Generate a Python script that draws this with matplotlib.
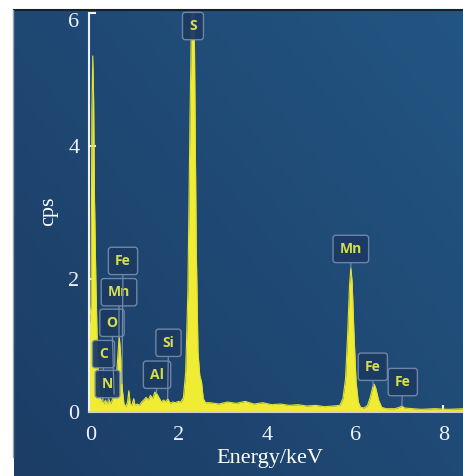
import matplotlib
matplotlib.use("Agg")
import matplotlib.pyplot as plt
import numpy as np

# EDS spectrum, energy (keV) vs counts per second
energy_kev = [
    -0.05, 0.00, 0.02, 0.04, 0.06, 0.08, 0.11, 0.15, 0.19, 0.23, 0.26, 0.29,
    0.33, 0.37, 0.40, 0.44, 0.48, 0.52, 0.56, 0.60, 0.64, 0.68, 0.71, 0.75,
    0.79, 0.83, 0.86, 0.89, 0.93, 0.97, 1.00, 1.05, 1.10, 1.15, 1.20, 1.25,
    1.30, 1.35, 1.40, 1.45, 1.49, 1.54, 1.60, 1.65, 1.70, 1.74, 1.80, 1.86,
    1.92, 1.98, 2.04, 2.10, 2.15, 2.20, 2.25, 2.29, 2.32, 2.35, 2.39, 2.43,
    2.47, 2.51, 2.55, 2.60, 2.70, 2.90, 3.10, 3.30, 3.50, 3.70, 3.90, 4.10,
    4.30, 4.50, 4.70, 4.90, 5.10, 5.30, 5.50, 5.65, 5.72, 5.78, 5.83, 5.87,
    5.90, 5.93, 5.97, 6.02, 6.07, 6.12, 6.20, 6.28, 6.34, 6.40, 6.43, 6.47,
    6.53, 6.60, 6.70, 6.80, 6.90, 7.00, 7.06, 7.12, 7.30, 7.50, 7.80, 8.10,
    8.50,
]
counts_cps = [
    1.20, 1.60, 4.50, 5.35, 4.70, 3.20, 2.00, 0.80, 0.30, 0.15, 0.20, 0.12,
    0.18, 0.10, 0.20, 0.12, 0.18, 0.25, 0.40, 0.75, 1.15, 0.80, 0.35, 0.12,
    0.08, 0.15, 0.32, 0.12, 0.10, 0.20, 0.10, 0.12, 0.10, 0.15, 0.18, 0.22,
    0.18, 0.25, 0.20, 0.30, 0.28, 0.22, 0.15, 0.18, 0.15, 0.20, 0.13, 0.15,
    0.14, 0.16, 0.15, 0.22, 0.60, 1.80, 4.50, 6.30, 6.40, 5.50, 2.50, 0.90,
    0.55, 0.45, 0.20, 0.14, 0.14, 0.12, 0.15, 0.13, 0.16, 0.12, 0.14, 0.11,
    0.12, 0.10, 0.11, 0.09, 0.10, 0.08, 0.09, 0.10, 0.20, 0.50, 1.20, 1.90,
    2.17, 1.95, 1.20, 0.45, 0.15, 0.07, 0.06, 0.10, 0.22, 0.38, 0.42, 0.35,
    0.18, 0.07, 0.05, 0.05, 0.05, 0.07, 0.09, 0.06, 0.05, 0.04, 0.05, 0.04,
    0.05,
]

# element lines marked on the spectrum
element_names = ["C", "N", "O", "Mn", "Fe", "Al", "Si", "S", "Mn", "Fe", "Fe"]
line_kev = [0.277, 0.392, 0.525, 0.637, 0.705, 1.486, 1.740, 2.307, 5.899, 6.404, 7.058]

x_ticks = [0, 2, 4, 6, 8]
y_ticks = [0, 2, 4, 6]

W, H = 464, 476
fig = plt.figure(figsize=(W / 100, H / 100), dpi=100, facecolor="white")

# blue backdrop with a soft diagonal gradient
bg = fig.add_axes([14 / W, 0, 1 - 14 / W, 466 / H], zorder=0)
gx, gy = np.meshgrid(np.linspace(0, 1, 200), np.linspace(0, 1, 200))
g = 0.55 * gx + 0.45 * gy
c0 = np.array([0x1b, 0x3d, 0x66]) / 255
c1 = np.array([0x23, 0x55, 0x82]) / 255
img = c0[None, None, :] * (1 - g[..., None]) + c1[None, None, :] * g[..., None]
bg.imshow(img, origin="lower", aspect="auto", extent=[0, 1, 0, 1])
bg.axis("off")
fig.add_artist(plt.Line2D([14 / W, 1], [466 / H, 466 / H], color="#1a1f26", lw=1.5))
fig.add_artist(plt.Line2D([13.5 / W, 13.5 / W], [19 / H, 466 / H], color="#9aa3ad", lw=1))

ax = fig.add_axes([89 / W, 64 / H, (W - 89) / W, 399.3 / H], zorder=1)
ax.set_facecolor("none")

yellow = "#efec33"
ax.fill_between(energy_kev, counts_cps, 0, color=yellow, lw=0, zorder=2)
ax.plot(energy_kev, counts_cps, color="#e2e036", lw=0.8, zorder=2)

ax.set_xlim(-0.045, 8.47)
ax.set_ylim(0, 6)
ax.set_xticks(x_ticks)
ax.set_yticks(y_ticks)

for side in ("top", "right"):
    ax.spines[side].set_visible(False)
ax.spines["left"].set_color("#eef2f7")
ax.spines["bottom"].set_color("#c9d2dd")
ax.spines["left"].set_linewidth(1.5)
ax.spines["bottom"].set_linewidth(1.5)
ax.spines["left"].set_zorder(3)
ax.spines["bottom"].set_zorder(3)

serif = "Liberation Serif"
ax.tick_params(direction="in", length=5, width=1.5, colors="#eef2f7",
               labelsize=16, pad=7)
ax.tick_params(axis="x", pad=10)
for lab in ax.get_xticklabels() + ax.get_yticklabels():
    lab.set_fontfamily(serif)
# the top label hangs below its tick so it stays inside the blue panel
ax.get_yticklabels()[-1].set_va("top")
ax.get_yticklabels()[-1].set_y(6.0)

fig.text(49 / W, 1 - 211 / H, "cps", rotation=90, ha="center", va="center",
         color="white", fontsize=16, family=serif)
fig.text(270 / W, 1 - 458 / H, "Energy/keV", ha="center", va="center",
         color="white", fontsize=16, family=serif)

# where each label box sits (keV, cps)
label_pos = [
    (0.284, 0.87), (0.375, 0.42), (0.477, 1.34), (0.636, 1.80), (0.727, 2.27),
    (1.50, 0.56), (1.76, 1.04), (2.316, 5.80), (5.90, 2.45), (6.40, 0.68),
    (7.08, 0.45),
]

box = dict(boxstyle="round,pad=0.48,rounding_size=0.2", fc="#1b3b63",
           ec="#7389a8", lw=1.0, alpha=0.95)
for name, e, (tx, ty) in zip(element_names, line_kev, label_pos):
    tip = min(np.interp(e, energy_kev, counts_cps), ty)
    ax.annotate(
        name, xy=(e, tip), xytext=(tx, ty),
        ha="center", va="center", color="#d6de4e", fontsize=10,
        fontweight="bold", family="Open Sans",
        bbox=box, annotation_clip=False, zorder=4,
        arrowprops=dict(arrowstyle="-", color="#7389a8", lw=0.9,
                        shrinkA=0, shrinkB=0),
    )

fig.savefig("out.png", dpi=100, facecolor=fig.get_facecolor())
